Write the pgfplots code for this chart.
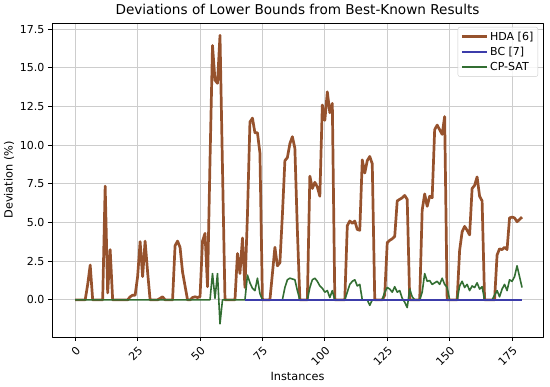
\documentclass[border=0pt]{standalone}
\usepackage{fontspec}
\setmainfont{DejaVu Sans}
\usepackage{pgfplots}
\usepackage{pgfplotstable}
\pgfplotsset{compat=1.18}
\definecolor{hdac}{RGB}{150,82,45}
\definecolor{bcc}{RGB}{60,60,170}
\definecolor{cpc}{RGB}{50,110,50}
\definecolor{gridc}{RGB}{205,205,205}
\pgfplotstableread{
i hda bc cp
0 0 nan 0
1 0 nan 0
2 0 nan 0
3 0 nan 0
4 0 nan 0
5 1.0 nan 0
6 2.25 nan 0
7 0 nan 0
8 0 nan 0
9 0 nan 0
10 0 nan 0
11 0 nan 0
12 7.35 nan 0
13 0.45 nan 0
14 3.25 nan 0
15 0 nan 0
16 0 nan 0
17 0 nan 0
18 0 nan 0
19 0 nan 0
20 0 nan 0
21 0 nan 0
22 0.2 nan 0
23 0.3 nan 0
24 0.3 nan 0
25 1.5 nan 0
26 3.77 nan 0
27 1.5 nan 0
28 3.8 nan 0
29 1.8 nan 0
30 0 nan 0
31 0 nan 0
32 0 nan 0
33 0 nan 0
34 0.1 nan 0
35 0.2 nan 0
36 0 nan 0
37 0 nan 0
38 0 nan 0
39 0 nan 0
40 3.5 nan 0
41 3.8 nan 0
42 3.4 nan 0
43 1.8 nan 0
44 0.9 nan 0
45 0 nan 0
46 0 nan 0
47 0.15 nan 0
48 0.2 nan 0
49 0.15 nan 0
50 0.2 nan 0
51 3.8 nan 0
52 4.3 nan 0
53 0.85 nan 0
54 9.0 nan 0
55 16.45 nan 1.7
56 14.2 nan 0.1
57 14.0 nan 1.7
58 17.1 nan -1.55
59 8.5 nan 0
60 0 nan 0
61 0 nan 0
62 0 nan 0
63 0 nan 0
64 0 nan 0
65 3.0 nan 0
66 1.7 nan 0
67 4.0 nan 0
68 0.8 0 0
69 5.5 0 1.6
70 11.5 0 1.1
71 11.75 0 0.75
72 10.8 0 0.6
73 10.8 0 1.4
74 9.5 0 0.4
75 0 0 0
76 0 0 0
77 0 0 0
78 0 0 0
79 1.7 0 0
80 3.4 0 0
81 2.2 0 0
82 2.4 0 0
83 5.5 0 0
84 9.0 0 0.8
85 9.2 0 1.3
86 10.1 0 1.4
87 10.55 0 1.35
88 9.8 0 1.3
89 4.5 0 0.6
90 0 0 0
91 0 0 0
92 0 0 0
93 0 0 0
94 8.0 0 0.8
95 7.2 0 1.3
96 7.6 0 1.4
97 7.3 0 1.2
98 6.7 0 0.9
99 12.6 0 0.75
100 11.6 0 0.5
101 13.45 0 0.6
102 12.1 0 0.15
103 12.7 0 0.6
104 0 0 0
105 0 0 0
106 0 0 0
107 0 0 0
108 0 0 0
109 4.8 0 0.5
110 5.1 0 1.0
111 4.95 0 1.2
112 5.1 0 1.3
113 4.55 0 0.9
114 4.5 0 1.0
115 9.05 0 0
116 8.2 0 0
117 9.0 0 0
118 9.27 0 -0.35
119 8.8 0 0
120 0 0 0
121 0 0 0
122 0 0 0
123 0 0 0
124 0.3 0 0.5
125 3.7 0 0.8
126 3.85 0 0.7
127 3.95 0 0.5
128 4.1 0 0.85
129 6.4 0 0.5
130 6.5 0 0.6
131 6.6 0 0.1
132 6.75 0 -0.15
133 6.5 0 -0.5
134 0 0 0.7
135 0 0 0.2
136 0 0 0
137 0 0 0
138 0 0 0
139 5.8 0 0.5
140 6.85 0 1.7
141 6.05 0 1.2
142 6.7 0 1.25
143 6.6 0 1.0
144 11.0 0 1.1
145 11.3 0 1.2
146 11.0 0 1.0
147 10.7 0 1.4
148 11.85 0 1.0
149 0 0 0.8
150 0 0 0
151 0 0 0
152 0 0 0
153 0 0 0
154 3.2 0 0.9
155 4.4 0 1.2
156 4.75 0 0.8
157 4.5 0 1.0
158 4.2 0 0.6
159 7.2 0 0.9
160 7.4 0 0.8
161 7.95 0 1.1
162 6.7 0 0.7
163 6.4 0 0.85
164 0 0 0
165 0 0 0
166 0 0 0
167 0 0 0
168 0 0 0.3
169 2.9 0 0.6
170 3.3 0 0.2
171 3.25 0 0.7
172 3.4 0 1.0
173 3.25 0 0.6
174 5.3 0 1.3
175 5.35 0 1.2
176 5.3 0 1.5
177 5.05 0 2.2
178 5.2 0 1.5
179 5.35 0 0.8
}\data
\begin{document}
\begin{tikzpicture}
\path[use as bounding box] (0,0) rectangle (550pt,387pt);
\begin{axis}[
  at={(52pt,50pt)}, anchor=south west,
  scale only axis, width=491pt, height=314pt,
  xmin=-9.3, xmax=187.4, ymin=-2.4, ymax=17.9,
  xtick={0,25,...,175}, ytick={0,2.5,...,17.5},
  yticklabel style={/pgf/number format/.cd, fixed, fixed zerofill, precision=1},
  /pgf/number format/assume math mode=true,
  ticklabel style={font=\fontsize{11}{13}\selectfont},
  xticklabel style={rotate=45, anchor=north east},
  tick align=outside, tick pos=left,
  major tick length=4pt,
  tick style={line width=0.9pt, black},
  axis line style={line width=0.9pt},
  grid=major,
  major grid style={line width=0.9pt, draw=gridc},
  xlabel={Instances}, ylabel={Deviation (\%)},
  label style={font=\fontsize{11.3}{13}\selectfont},
  xlabel style={yshift=3pt},
  ylabel style={yshift=-1pt},
  title={Deviations of Lower Bounds from Best-Known Results},
  title style={font=\fontsize{13.6}{16}\selectfont, yshift=-1pt},
  legend cell align=left,
  legend style={at={(1,1)}, anchor=north east, xshift=-5pt, yshift=-4pt,
    draw={rgb,255:red,204;green,204;blue,204}, fill=white, fill opacity=0.8, text opacity=1,
    rounded corners=2pt, font=\fontsize{11}{13}\selectfont, row sep=1.5pt,
    inner sep=2.5pt},
  legend image code/.code={\draw[#1] (0pt,0pt) -- (25pt,0pt);},
  line join=round,
]
\addplot[hdac, line width=2.7pt, mark=none, forget plot] table[x=i,y=hda]{\data};
\addplot[cpc, line width=1.6pt, mark=none, forget plot] table[x=i,y=cp]{\data};
\addplot[bcc, line width=2.2pt, mark=none, forget plot] table[x=i,y=bc]{\data};
\addlegendimage{hdac, line width=2.7pt}
\addlegendentry{HDA [6]}
\addlegendimage{bcc, line width=2.2pt}
\addlegendentry{BC [7]}
\addlegendimage{cpc, line width=1.6pt}
\addlegendentry{CP-SAT}
\end{axis}
\end{tikzpicture}
\end{document}
